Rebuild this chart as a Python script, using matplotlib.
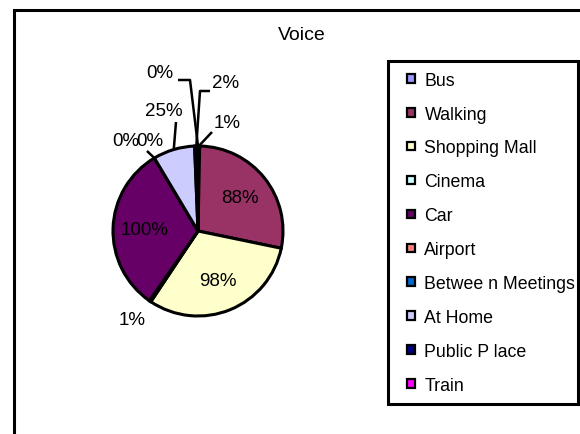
import numpy as np
import matplotlib.pyplot as plt
from matplotlib.patches import Rectangle, Wedge
from matplotlib.legend_handler import HandlerPatch

plt.rcParams['font.family'] = ['Liberation Sans', 'DejaVu Sans']

# Voice usage by location
places = ['Bus', 'Walking', 'Shopping Mall', 'Cinema', 'Car', 'Airport',
          'Between Meetings', 'At Home', 'Public Place', 'Train']
values = [1, 88, 98, 1, 100, 0, 0, 25, 2, 0]
colors = ['#9999FF', '#993366', '#FFFFCC', '#CCFFFF', '#660066', '#FF8080',
          '#0066CC', '#CCCCFF', '#000080', '#FF00FF']
legend_names = ['Bus', 'Walking', 'Shopping Mall', 'Cinema', 'Car', 'Airport',
                'Betwee n Meetings', 'At Home', 'Public P lace', 'Train']

W, H = 580, 435


def px(x, y):
    # pixel position (origin top-left) -> data coords
    return x, H - y


# where the small slices get their labels: label centre, leader start, elbow
outer = {
    'Bus': ((227, 123), (212, 133), None),
    'Cinema': ((132, 321), None, None),
    'Airport': ((126, 142), None, None),
    'Between Meetings': ((150, 142), (147, 152), None),
    'At Home': ((164, 111), (176, 123), None),
    'Public Place': ((226, 83), (210, 92), (200, 92)),
    'Train': ((160, 73), (178, 81), (190, 81)),
}


def small_square(legend, orig_handle, xdescent, ydescent, width, height, fontsize):
    # little square key, pushed toward the label
    s = 6.2
    return Rectangle((width - s - 1.5 - xdescent, (height - s) / 2 - ydescent), s, s)


fig = plt.figure(figsize=(W / 100, H / 100), dpi=100)
ax = fig.add_axes([0, 0, 1, 1])

cx, cy = px(198, 232)
R = 85
wedges, _ = ax.pie(values, colors=colors, startangle=90, counterclock=False,
                   center=(cx, cy), radius=R,
                   wedgeprops=dict(edgecolor='black', linewidth=2.2))
ax.set_xlim(0, W)
ax.set_ylim(0, H)
ax.set_aspect('equal')
ax.axis('off')

for name, v, w in zip(places, values, wedges):
    mid = np.deg2rad((w.theta1 + w.theta2) / 2)
    label = '%d%%' % v
    if name in outer:
        (lx, ly), start, elbow = outer[name]
        ax.text(*px(lx, ly), label, ha='center', va='center', fontsize=13.5)
        if start is not None:
            pts = [px(*start)]
            if elbow is not None:
                pts.append(px(*elbow))
            pts.append((cx + R * np.cos(mid), cy + R * np.sin(mid)))
            xs, ys = zip(*pts)
            ax.plot(xs, ys, color='black', lw=1.8, solid_capstyle='butt')
    else:
        ax.text(cx + 0.63 * R * np.cos(mid), cy + 0.63 * R * np.sin(mid), label,
                ha='center', va='center', fontsize=13.5)

ax.text(*px(302, 35), 'Voice', ha='center', va='center', fontsize=14)

# chart area border (left and top edges only are inside the image)
ax.plot([13.5, 13.5, W + 5], [-5, H - 10.5, H - 10.5], color='black', lw=2.2,
        solid_joinstyle='miter', clip_on=False)

leg = fig.legend(wedges, legend_names, loc='upper left',
                 bbox_to_anchor=(388 / W, 1 - 62 / H, 190 / W, 0), mode='expand',
                 borderaxespad=0, fontsize=12.8, frameon=True, fancybox=False,
                 framealpha=1, edgecolor='black', handlelength=1.05,
                 handleheight=0.6, handletextpad=0.4, labelspacing=0.95,
                 borderpad=0.6,
                 handler_map={Wedge: HandlerPatch(patch_func=small_square)})
leg.get_frame().set_linewidth(2.2)
for h in leg.legend_handles:
    h.set_linewidth(1.6)

fig.savefig('out.png', dpi=100)
